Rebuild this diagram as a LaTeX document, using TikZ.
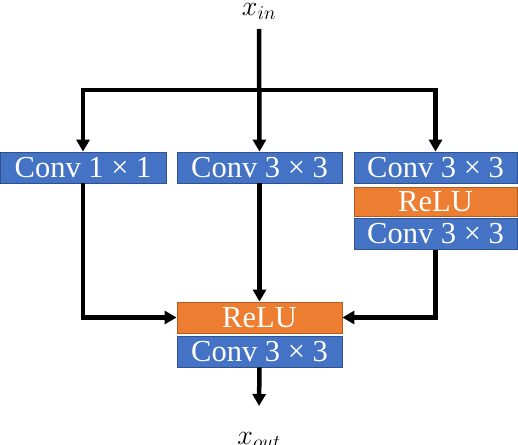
\documentclass[tikz,border=0pt]{standalone}
\usepackage{fix-cm}
\usepackage{fontspec}
\setmainfont{Liberation Serif}
\usetikzlibrary{arrows.meta}
\definecolor{cblue}{HTML}{4472C4}
\definecolor{cblueb}{HTML}{2F528F}
\definecolor{corange}{HTML}{ED7D31}
\definecolor{coranb}{HTML}{AE5A21}
\begin{document}
\begin{tikzpicture}[x=1pt,y=-1pt,
  convbox/.style={rectangle,fill=cblue,draw=cblueb,line width=0.8pt,text=white,inner sep=0pt,minimum height=31pt,font=\fontsize{30.5}{30.5}\selectfont},
  relubox/.style={rectangle,fill=corange,draw=coranb,line width=0.8pt,text=white,inner sep=0pt,minimum height=30pt,font=\fontsize{30.5}{30.5}\selectfont},
  conn/.style={line width=4.5pt},
  arr/.style={conn,-{Triangle[length=12pt,width=13pt]}},
  lbl/.style={inner sep=0pt,font=\fontsize{28}{28}\selectfont}]
\useasboundingbox (0,0) rectangle (518,444);
\node[lbl,anchor=north] (xin) at (259,3) {$x_{in}$};
\node[convbox,minimum width=166pt] (c1) at (83,167.5) {Conv 1 × 1};
\node[convbox,minimum width=165pt] (c2) at (259.5,167.5) {Conv 3 × 3};
\node[convbox,minimum width=163pt] (c3) at (435.5,167.5) {Conv 3 × 3};
\node[relubox,minimum width=163pt,minimum height=29pt] (r3) at (435.5,201.5) {ReLU};
\node[convbox,minimum width=163pt] (c4) at (435.5,234) {Conv 3 × 3};
\node[relubox,minimum width=165pt,minimum height=31pt] (r) at (259.5,317.5) {ReLU};
\node[convbox,minimum width=165pt] (c5) at (259.5,351.5) {Conv 3 × 3};
\node[lbl,anchor=north] (xout) at (259,432) {$x_{out}$};
\coordinate (top) at (259,29);
\coordinate (split) at (259,90);
\coordinate (outend) at (259,406);
\draw[arr] (top) -- (c2.north);
\draw[arr] (split) -| (c1.north);
\draw[arr] (split) -| (c3.north);
\draw[arr] (c1.south) |- (r.west);
\draw[arr] (c2.south) -- (r.north);
\draw[arr] (c4.south) |- (r.east);
\draw[arr] (c5.south) -- (outend);
\end{tikzpicture}
\end{document}
